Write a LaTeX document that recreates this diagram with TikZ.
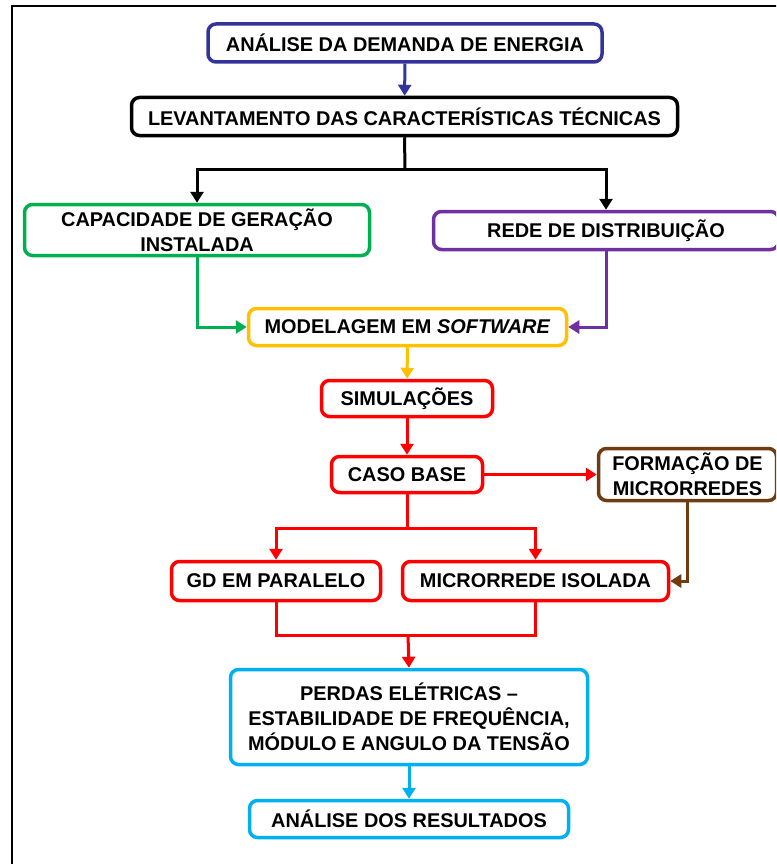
\documentclass[tikz,border=0pt]{standalone}
\usepackage{fontspec}
\setmainfont{Liberation Sans}
\usetikzlibrary{arrows.meta}
\definecolor{cnavy}{HTML}{333399}
\definecolor{cgreen}{HTML}{00B050}
\definecolor{cpurple}{HTML}{7030A0}
\definecolor{cyellow}{HTML}{FFC000}
\definecolor{cred}{HTML}{FF0000}
\definecolor{cbrown}{HTML}{6E3B12}
\definecolor{ccyan}{HTML}{00B0F0}
\begin{document}
\begin{tikzpicture}[x=1pt,y=-1pt,
  box/.style={draw, rounded corners=8pt, line width=3.5pt, fill=white,
    inner sep=0pt, align=center,
    font=\fontsize{19.9}{25}\selectfont\bfseries},
  link/.style={line width=3pt},
  arr/.style={link, -{Triangle[length=11pt,width=13pt]}}]
\useasboundingbox (0,0) rectangle (776,864);
\begin{scope}
\clip (0,0) rectangle (776,864);
% outer frame, open to the right and bottom
\draw[line width=1.5pt] (12,6) rectangle (800,900);

% process boxes
\node[box, draw=cnavy, minimum width=394pt, minimum height=38pt] (b1) at (405,43) {ANÁLISE DA DEMANDA DE ENERGIA};
\node[box, draw=black, minimum width=546pt, minimum height=38pt] (b2) at (404.5,116.5) {LEVANTAMENTO DAS CARACTERÍSTICAS TÉCNICAS};
\node[box, draw=cgreen, minimum width=345pt, minimum height=51pt] (b3) at (197,230) {CAPACIDADE DE GERAÇÃO\\INSTALADA};
\node[box, draw=cpurple, minimum width=345pt, minimum height=38pt] (b4) at (606,230.5) {REDE DE DISTRIBUIÇÃO};
\node[box, draw=cyellow, minimum width=318pt, minimum height=37pt] (b5) at (407.5,327) {MODELAGEM EM \textit{SOFTWARE}};
\node[box, draw=cred, minimum width=171pt, minimum height=36pt] (b6) at (407,398.5) {SIMULAÇÕES};
\node[box, draw=cred, minimum width=151pt, minimum height=36pt] (b7) at (407,474.5) {CASO BASE};
\node[box, draw=cbrown, minimum width=178pt, minimum height=52pt] (b8) at (687.5,474.5) {FORMAÇÃO DE\\MICRORREDES};
\node[box, draw=cred, minimum width=209pt, minimum height=39pt] (b9) at (276,581) {GD EM PARALELO};
\node[box, draw=cred, minimum width=266pt, minimum height=39pt] (b10) at (535.5,581) {MICRORREDE ISOLADA};
\node[box, draw=ccyan, minimum width=357pt, minimum height=95pt] (b11) at (409,717) {PERDAS ELÉTRICAS –\\ESTABILIDADE DE FREQUÊNCIA,\\MÓDULO E ANGULO DA TENSÃO};
\node[box, draw=ccyan, minimum width=319pt, minimum height=37pt] (b12) at (409,819) {ANÁLISE DOS RESULTADOS};

% junction points
\coordinate (s1) at (405,169);
\coordinate (s2) at (407,528);
\coordinate (m) at (408,635);

% connectors
\draw[arr, cnavy] (b1) -- (b2);
\draw[link, black] (b2.south) -- (s1);
\draw[arr, black] (s1) -| (b3.north);
\draw[arr, black] (s1) -| (b4.north);
\draw[arr, cgreen] (b3.south) |- (b5.west);
\draw[arr, cpurple] (b4.south) |- (b5.east);
\draw[arr, cyellow] (b5) -- (b6);
\draw[arr, cred] (b6) -- (b7);
\draw[arr, cred] (b7.east) -- (b8.west);
\draw[link, cred] (b7.south) -- (s2);
\draw[arr, cred] (s2) -| (b9.north);
\draw[arr, cred] (s2) -| (b10.north);
\draw[arr, cbrown] (b8.south) |- (b10.east);
\draw[link, cred] (b9.south) |- (m) -| (b10.south);
\draw[arr, cred] (m) -- (b11.north);
\draw[arr, ccyan] (b11) -- (b12);
\end{scope}
\end{tikzpicture}
\end{document}
